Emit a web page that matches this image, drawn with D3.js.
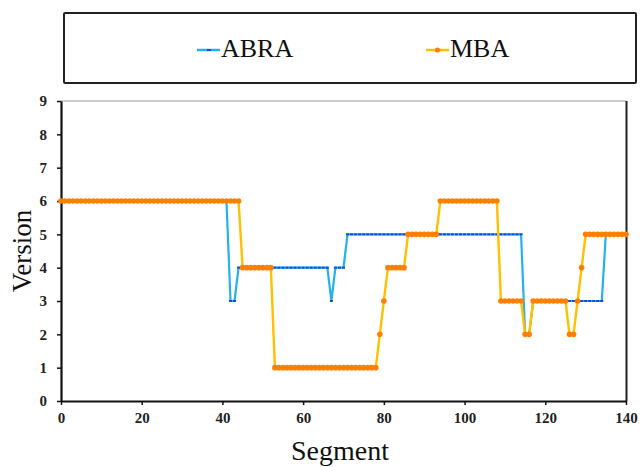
<!DOCTYPE html>
<html>
<head>
<meta charset="utf-8">
<script src="https://cdn.jsdelivr.net/npm/d3@7"></script>
<style>
  html, body { margin: 0; padding: 0; background: #fff; }
  svg { display: block; }
</style>
</head>
<body>
<svg id="chart" width="642" height="467"></svg>
<script>
// ---- data ----
const seriesNames = ["ABRA", "MBA"];
const xTicks = [0, 20, 40, 60, 80, 100, 120, 140];
const yTicks = [0, 1, 2, 3, 4, 5, 6, 7, 8, 9];
const abra = [
  6,6,6,6,6,6,6,6,6,6,
  6,6,6,6,6,6,6,6,6,6,
  6,6,6,6,6,6,6,6,6,6,
  6,6,6,6,6,6,6,6,6,6,
  6,6,3,3,4,4,4,4,4,4,
  4,4,4,4,4,4,4,4,4,4,
  4,4,4,4,4,4,4,3,4,4,
  4,5,5,5,5,5,5,5,5,5,
  5,5,5,5,5,5,5,5,5,5,
  5,5,5,5,5,5,5,5,5,5,
  5,5,5,5,5,5,5,5,5,5,
  5,5,5,5,5,2,2,3,3,3,
  3,3,3,3,3,3,3,3,3,3,
  3,3,3,3,3,5,5,5,5,5,
  5
];
const mba = [
  6,6,6,6,6,6,6,6,6,6,
  6,6,6,6,6,6,6,6,6,6,
  6,6,6,6,6,6,6,6,6,6,
  6,6,6,6,6,6,6,6,6,6,
  6,6,6,6,6,4,4,4,4,4,
  4,4,4,1,1,1,1,1,1,1,
  1,1,1,1,1,1,1,1,1,1,
  1,1,1,1,1,1,1,1,1,2,
  3,4,4,4,4,4,5,5,5,5,
  5,5,5,5,6,6,6,6,6,6,
  6,6,6,6,6,6,6,6,6,3,
  3,3,3,3,3,2,2,3,3,3,
  3,3,3,3,3,3,2,2,3,4,
  5,5,5,5,5,5,5,5,5,5,
  5
];

// ---- layout ----
const svg = d3.select("#chart");
const font = "'Liberation Serif', 'Times New Roman', serif";
const x = d3.scaleLinear().domain([0, 140]).range([61, 626]);
const y = d3.scaleLinear().domain([0, 9]).range([401, 101]);

// legend box
svg.append("rect").attr("x", 64).attr("y", 13).attr("width", 572).attr("height", 70)
  .attr("fill", "#fff").attr("stroke", "#222").attr("stroke-width", 2).attr("rx", 1);

const legendItems = [
  { name: seriesNames[0], lx: 197, tx: 221, line: "#25b0f0", mark: "#0a4fd6", type: "dash" },
  { name: seriesNames[1], lx: 426, tx: 450, line: "#ffc000", mark: "#ff7a00", type: "dot" }
];
legendItems.forEach(it => {
  svg.append("line").attr("x1", it.lx).attr("x2", it.lx + 23).attr("y1", 50).attr("y2", 50)
    .attr("stroke", it.line).attr("stroke-width", 2.5);
  if (it.type === "dot") {
    svg.append("circle").attr("cx", it.lx + 11.5).attr("cy", 50).attr("r", 2.5).attr("fill", it.mark);
  } else {
    svg.append("rect").attr("x", it.lx + 10).attr("y", 49).attr("width", 4).attr("height", 2).attr("fill", it.mark);
  }
  svg.append("text").attr("x", it.tx).attr("y", 57).text(it.name)
    .style("font-family", font).style("font-size", "26px").attr("fill", "#111");
});

// plot frame (top gray, right dark)
svg.append("line").attr("x1", 61).attr("x2", 626).attr("y1", 101).attr("y2", 101)
  .attr("stroke", "#999").attr("stroke-width", 1.2);
svg.append("line").attr("x1", 626.5).attr("x2", 626.5).attr("y1", 101).attr("y2", 401)
  .attr("stroke", "#222").attr("stroke-width", 2);

// axes
const xAxis = d3.axisBottom(x).tickValues(xTicks).tickSize(4).tickPadding(7).tickSizeOuter(0);
const yAxis = d3.axisLeft(y).tickValues(yTicks).tickSize(4).tickPadding(10).tickSizeOuter(0);

const gx = svg.append("g").attr("transform", "translate(0,401)").call(xAxis);
const gy = svg.append("g").attr("transform", "translate(61,0)").call(yAxis);
[gx, gy].forEach(g => {
  g.attr("font-family", null).attr("font-size", null);
  g.select(".domain").attr("stroke", "#111").attr("stroke-width", 2.2);
  g.selectAll(".tick line").attr("stroke", "#111").attr("stroke-width", 1.5);
  g.selectAll(".tick text").style("font-family", font).style("font-size", "15px")
    .style("font-weight", "bold").attr("fill", "#222");
});

// axis titles
svg.append("text").attr("x", 340).attr("y", 460).attr("text-anchor", "middle")
  .style("font-family", font).style("font-size", "28px").attr("fill", "#111").text("Segment");
svg.append("text").attr("transform", "translate(31,251) rotate(-90)").attr("text-anchor", "middle")
  .style("font-family", font).style("font-size", "27px").attr("fill", "#111").text("Version");

// series
const line = d3.line().x((d, i) => x(i)).y(d => y(d));

svg.append("path").datum(abra).attr("d", line).attr("fill", "none")
  .attr("stroke", "#25b0f0").attr("stroke-width", 2.2);
svg.append("g").selectAll("rect").data(abra).join("rect")
  .attr("x", (d, i) => x(i) - 1.5).attr("y", d => y(d) - 1).attr("width", 3).attr("height", 2)
  .attr("fill", "#0a4fd6");

svg.append("path").datum(mba).attr("d", line).attr("fill", "none")
  .attr("stroke", "#ffc000").attr("stroke-width", 2.4);
svg.append("g").selectAll("circle").data(mba).join("circle")
  .attr("cx", (d, i) => x(i)).attr("cy", d => y(d)).attr("r", 2.8)
  .attr("fill", "#ff8000");
</script>
</body>
</html>
